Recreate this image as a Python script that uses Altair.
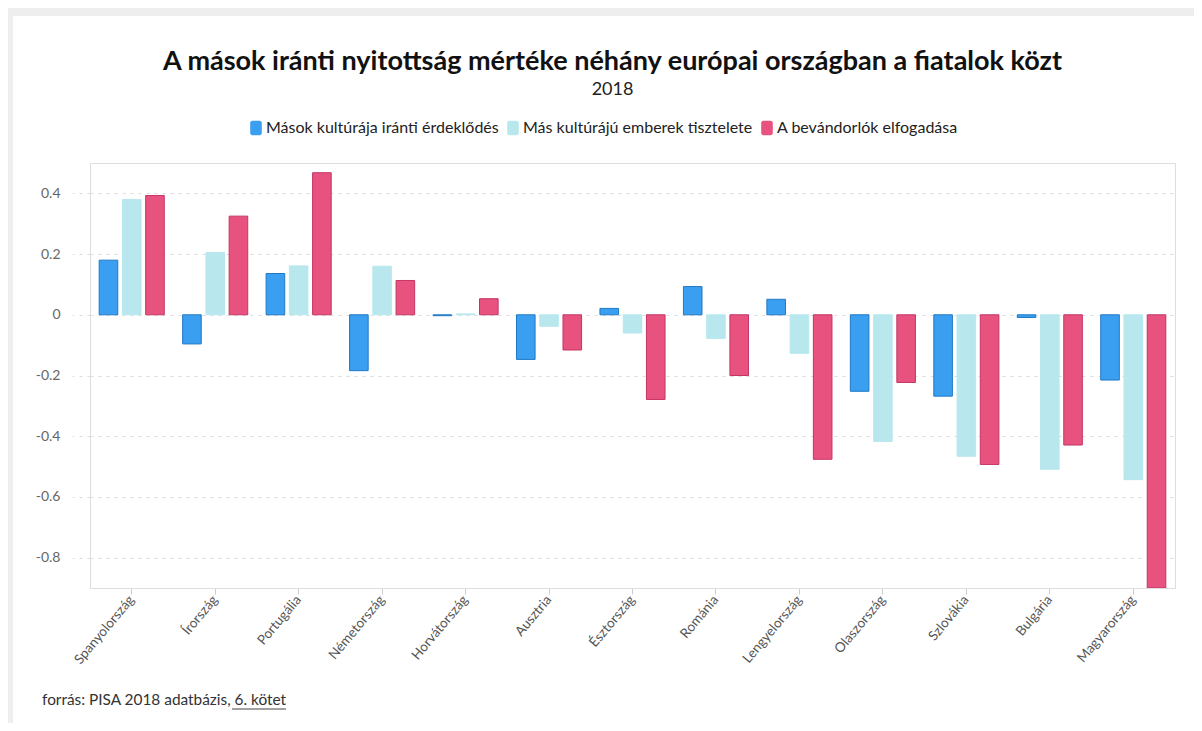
import altair as alt
import pandas as pd

countries = ["Spanyolország", "Írország", "Portugália", "Németország", "Horvátország",
             "Ausztria", "Észtország", "Románia", "Lengyelország", "Olaszország",
             "Szlovákia", "Bulgária", "Magyarország"]
series = ["Mások kultúrája iránti érdeklődés", "Más kultúrájú emberek tisztelete",
          "A bevándorlók elfogadása"]
interest = [0.18, -0.096, 0.136, -0.184, -0.003, -0.147, 0.021, 0.093, 0.051, -0.252, -0.268, -0.009, -0.215]
respect = [0.38, 0.205, 0.161, 0.16, 0.003, -0.038, -0.06, -0.078, -0.127, -0.417, -0.466, -0.509, -0.543]
acceptance = [0.393, 0.325, 0.468, 0.113, 0.053, -0.116, -0.279, -0.2, -0.476, -0.223, -0.493, -0.429, -0.9]
y_ticks = [-0.8, -0.6, -0.4, -0.2, 0, 0.2, 0.4]

title_text = "A mások iránti nyitottság mértéke néhány európai országban a fiatalok közt"
subtitle_text = "2018"
source_text = "forrás: PISA 2018 adatbázis, 6. kötet"

fills = ["#3a9ff0", "#b8e8ee", "#e8527f"]
strokes = ["#2178c4", "#b8e8ee", "#c43566"]

rows = []
for s, vals in zip(series, [interest, respect, acceptance]):
    for c, v in zip(countries, vals):
        rows.append({"country": c, "series": s, "value": v})
df = pd.DataFrame(rows)

FONT = "Lato"
W, H = 1085, 425
PL, PT, PR = 82, 155, 19
PB = 715 - PT - H

rounded = ("M-0.5,-1H0.5A0.3,0.3,0,0,1,0.8,-0.7V0.7A0.3,0.3,0,0,1,0.5,1"
           "H-0.5A0.3,0.3,0,0,1,-0.8,0.7V-0.7A0.3,0.3,0,0,1,-0.5,-1Z")

bars = alt.Chart(df).mark_bar(strokeWidth=1, clip=True).encode(
    x=alt.X("country:N", sort=countries, title=None,
            scale=alt.Scale(paddingInner=0.22, paddingOuter=0.11),
            axis=alt.Axis(labelAngle=-50, labelAlign="right", labelBaseline="middle",
                          labelFontSize=13.5, labelColor="#555", labelFont=FONT,
                          domainColor="#dddddd", tickColor="#cccccc", tickSize=6,
                          labelPadding=3, grid=False)),
    xOffset=alt.XOffset("series:N", sort=series,
                        scale=alt.Scale(paddingInner=0.2, paddingOuter=0)),
    y=alt.Y("value:Q", title=None,
            scale=alt.Scale(domain=[-0.9, 0.5], nice=False, zero=False),
            axis=alt.Axis(values=y_ticks, labelExpr="toString(round(datum.value*10)/10)",
                          labelFontSize=14, labelColor="#666", labelFont=FONT,
                          domainColor="#dddddd", tickColor="#dddddd", tickSize=18,
                          tickDash=[3, 5], labelPadding=12,
                          gridColor="#dddddd", gridDash=[3, 5])),
    color=alt.Color("series:N", sort=series, title=None,
                    scale=alt.Scale(domain=series, range=fills),
                    legend=alt.Legend(orient="none", direction="horizontal",
                                      legendX=158, legendY=-43,
                                      symbolType=rounded, symbolSize=210,
                                      symbolStrokeWidth=0, labelFontSize=16,
                                      labelFont=FONT, labelColor="#222", labelLimit=0,
                                      columnPadding=6, labelOffset=2)),
    stroke=alt.Stroke("series:N", sort=series, legend=None,
                      scale=alt.Scale(domain=series, range=strokes)),
)

texts = pd.DataFrame({"title": [title_text], "subtitle": [subtitle_text], "source": [source_text]})

title = alt.Chart(texts).mark_text(align="center", baseline="alphabetic", fontSize=27,
                                   fontWeight="bold", font=FONT, color="#111").encode(
    x=alt.value(W / 2 - 20), y=alt.value(-93), text="title:N")
subtitle = alt.Chart(texts).mark_text(align="center", baseline="alphabetic", fontSize=18,
                                      font=FONT, color="#222").encode(
    x=alt.value(W / 2 - 20), y=alt.value(-68), text="subtitle:N")

footer = alt.Chart(texts).mark_text(align="left", baseline="alphabetic", fontSize=15.4,
                                    font=FONT, color="#333").encode(
    x=alt.value(-48), y=alt.value(542), text="source:N")
underline = alt.Chart(texts).mark_rule(color="#444", strokeWidth=1).encode(
    x=alt.value(142), x2=alt.value(196), y=alt.value(546))

frame_top = alt.Chart(texts).mark_rule(color="#eeeeee", strokeWidth=8).encode(
    x=alt.value(-PL), x2=alt.value(W + PR), y=alt.value(-PT + 4))
frame_left = alt.Chart(texts).mark_rule(color="#eeeeee", strokeWidth=6).encode(
    x=alt.value(-PL + 2), y=alt.value(-PT + 4), y2=alt.value(H + PB))

chart = alt.layer(frame_top, frame_left, bars, title, subtitle, footer, underline).properties(
    width=W, height=H,
    padding={"left": PL, "top": PT, "right": PR, "bottom": PB},
    autosize=alt.AutoSizeParams(type="none"),
).configure_view(strokeWidth=0).configure(background="white")

chart.save("out.html", embed_options={"renderer": "svg", "actions": False})
